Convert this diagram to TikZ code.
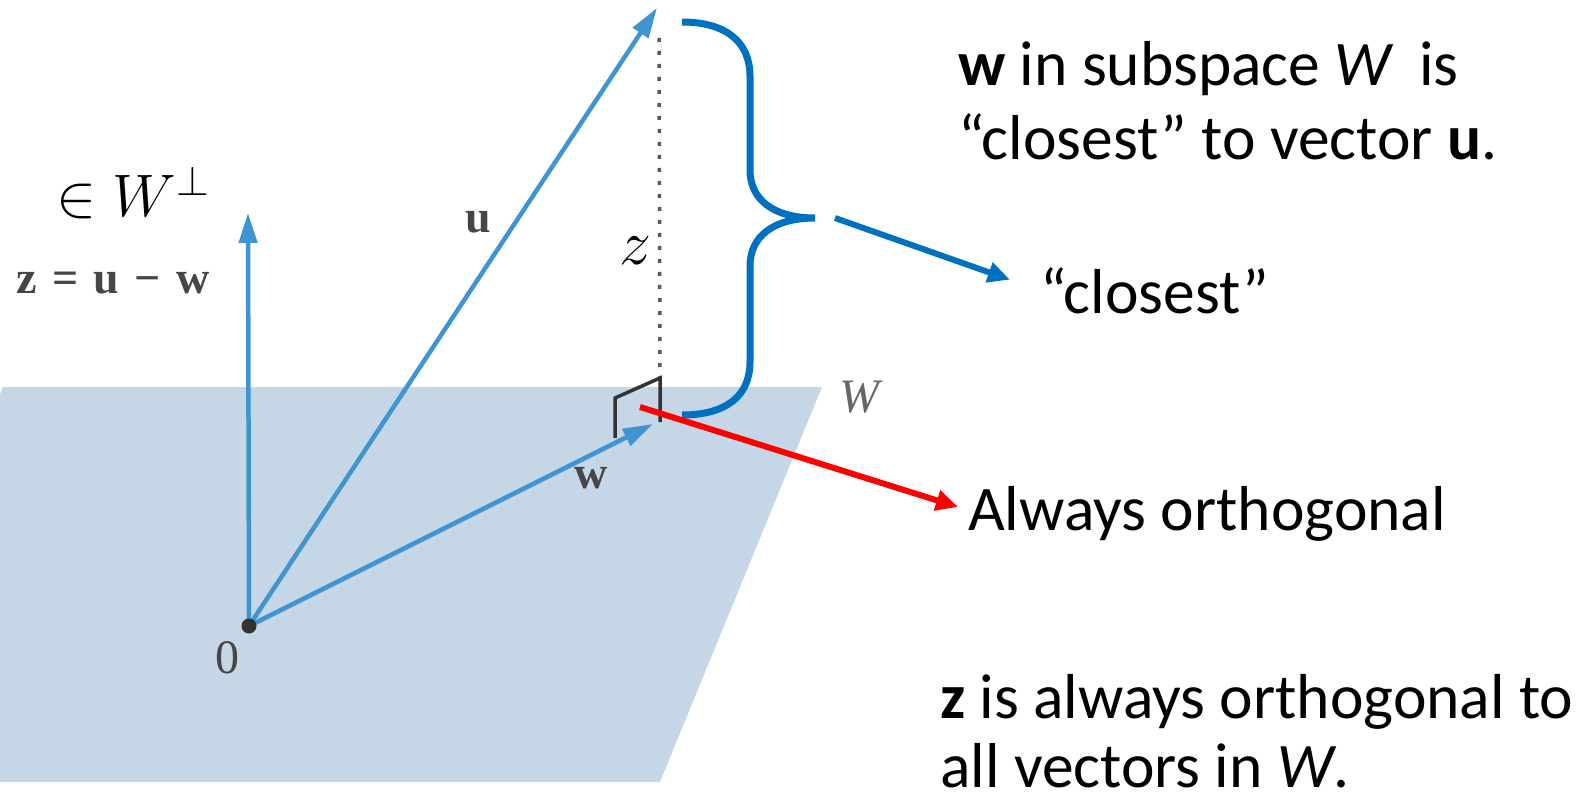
\RequirePackage{fix-cm}
\documentclass[tikz,border=0pt]{standalone}
\usepackage{fontspec}
\setmainfont{Carlito}
\newfontfamily\bookfont{Liberation Serif}
\usetikzlibrary{arrows.meta}

\definecolor{planeblue}{RGB}{197,214,231}
\definecolor{vecblue}{RGB}{62,149,209}
\definecolor{braceblue}{RGB}{0,112,192}
\definecolor{labelgray}{RGB}{70,70,70}

\begin{document}
\begin{tikzpicture}[x=1pt, y=-1pt,
		vec/.style={vecblue, line width=4.5pt, -{Triangle[length=30pt, width=18pt]}},
		callout/.style={line width=6pt, -{Triangle[length=22pt, width=20pt]}},
		note/.style={anchor=base west, inner sep=0pt, font=\fontsize{63.5}{72}\selectfont},
		booklabel/.style={text=labelgray, inner sep=0pt, font=\bookfont\fontsize{46}{52}\selectfont},
		boldlabel/.style={booklabel, font=\bookfont\bfseries\fontsize{46}{52}\selectfont}]
			\useasboundingbox (0, 0) rectangle (1593, 802);
			% Subspace W (plane)
			\begin{scope}
				\clip (0, 0) rectangle (1593, 802);
				\fill[planeblue] (3, 387) -- (822, 387) -- (660, 782) -- (-159, 782) -- cycle;
			\end{scope}
			% Points
			\coordinate (O) at (249, 626);
			\coordinate (ztip) at (248, 213);
			\coordinate (utip) at (657, 8);
			\coordinate (wtip) at (653, 424);
			\coordinate (foot) at (660, 378);
			\coordinate (top) at (659, 38);
			% Vectors
			\draw[vec] (O) -- (ztip);
			\draw[vec] (O) -- (utip);
			\draw[vec] (O) -- (wtip);
			% Perpendicular z (dotted) and right angle
			\draw[black!65, line width=3.5pt, dash pattern=on 4pt off 9pt] (top) -- (foot);
			\draw[black!80, line width=3.5pt] (615, 438) -- (615, 398) -- (foot) -- (660, 422);
			\fill[black!80] (O) circle (7.5);
			% Book labels
			\node[boldlabel] (zeq) at (113, 283) {z\,\,=\,\,u\,\,−\,\,w};
			\node[boldlabel] (ulab) at (478, 222) {u};
			\node[boldlabel] (wlab) at (591, 478) {w};
			\node[booklabel, font=\bookfont\fontsize{48}{52}\selectfont] (zero) at (227, 658) {0};
			\node[booklabel, text=black!60, font=\bookfont\itshape\fontsize{48}{52}\selectfont] (Wlab) at (859, 397) {W};
			\node[anchor=base west, inner sep=0pt, font=\fontsize{60}{66}\selectfont] (perp) at (56, 217) {$\in W^{\perp}$};
			\node[inner sep=0pt, font=\fontsize{64}{70}\selectfont] (zlab) at (635, 251) {$z$};
			% Brace over z
			\draw[braceblue, line width=7pt] (682, 22) .. controls (726, 22) and (750, 42) .. (750, 76)
				-- (750, 170) .. controls (750, 200) and (774, 218) .. (815, 218)
				.. controls (774, 218) and (750, 236) .. (750, 266)
				-- (750, 362) .. controls (750, 396) and (726, 415) .. (682, 415);
			% Text on the right
			\node[note] (line1) at (958, 86) {\textbf{w} in subspace \textit{W}\, is};
			\node[note] (line2) at (958, 160) {“closest” to vector \textbf{u}.};
			\node[note] (closest) at (1040, 313) {“closest”};
			\node[note] (always) at (968, 530) {Always orthogonal};
			\node[note] (zis) at (940, 718) {\textbf{z} is always orthogonal to};
			\node[note] (allvec) at (940, 787) {all vectors in \textit{W}.};
			% Arrows to the text
			\coordinate (bracegap) at (835, 218);
			\coordinate (redstart) at (640, 407);
			\coordinate (redend) at (958, 507);
			\draw[callout, braceblue, shorten >=32pt] (bracegap) -- (closest.west);
			\draw[callout, red] (redstart) -- (redend);
		\end{tikzpicture}
\end{document}
